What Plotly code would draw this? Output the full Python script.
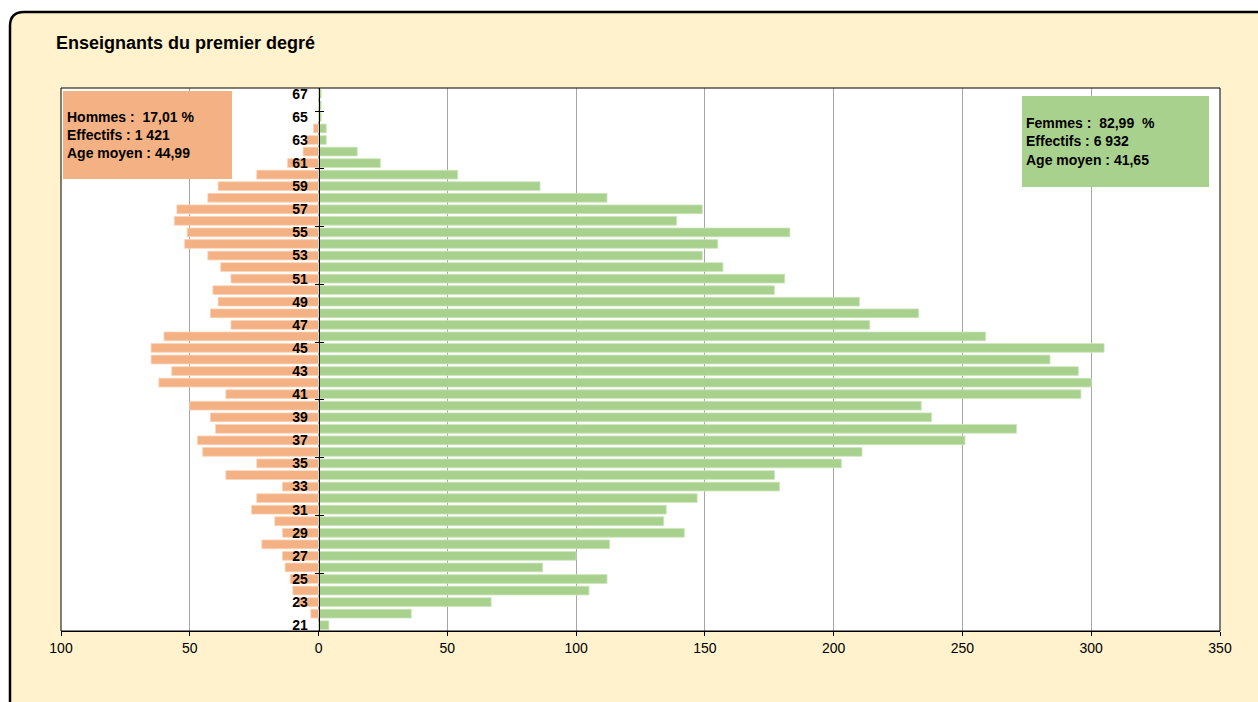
import plotly.graph_objects as go

# Ages 21..67 (bottom to top)
ages = list(range(21, 68))

# Headcount per age, men (Hommes)
hommes = [0, 3, 8, 10, 11, 13, 14, 22, 14, 17,
          26, 24, 14, 36, 24, 45, 47, 40, 42, 50,
          36, 62, 57, 65, 65, 60, 34, 42, 39, 41,
          34, 38, 43, 52, 51, 56, 55, 43, 39, 24,
          12, 6, 5, 2, 0, 0, 0]

# Headcount per age, women (Femmes)
femmes = [4, 36, 67, 105, 112, 87, 100, 113, 142, 134,
          135, 147, 179, 177, 203, 211, 251, 271, 238, 234,
          296, 300, 295, 284, 305, 259, 214, 233, 210, 177,
          181, 157, 149, 155, 183, 139, 149, 112, 86, 54,
          24, 15, 3, 3, 1, 1, 1]

age_moyen_hommes = "44,99"
age_moyen_femmes = "41,65"

x_ticks = [-100, -50, 0, 50, 100, 150, 200, 250, 300, 350]
x_tick_labels = [str(abs(v)) for v in x_ticks]
age_labels = [a for a in ages if a % 2 == 1]
age_marks = [a - 0.5 for a in ages if (a - 21) % 5 == 0]

FONT = "Liberation Sans, Arial, sans-serif"
COL_H = "#F4B183"
COL_F = "#A9D18E"
CREAM = "#FFF2CC"

W, H = 1258, 702
L, R, T, B = 61, 38, 88, 71
PW, PH = W - L - R, H - T - B


def px(x):
    return (x - L) / PW


def py(y):
    return (H - B - y) / PH


def fr_int(n):
    return f"{n:,}".replace(",", " ")


tot_h, tot_f = sum(hommes), sum(femmes)
pct_h = 100 * tot_h / (tot_h + tot_f)
pct_f = 100 * tot_f / (tot_h + tot_f)

xmin, xmax = x_ticks[0], x_ticks[-1]
zero_pos = (0 - xmin) / (xmax - xmin)

fig = go.Figure()
fig.add_trace(go.Bar(
    y=ages, x=[-v for v in hommes], orientation="h", name="Hommes",
    marker=dict(color=COL_H, line=dict(color="#FAD3B8", width=0.8)),
    customdata=hommes, hovertemplate="%{y} ans : %{customdata}<extra>Hommes</extra>",
))
fig.add_trace(go.Bar(
    y=ages, x=femmes, orientation="h", name="Femmes",
    marker=dict(color=COL_F, line=dict(color="#CDE5BD", width=0.8)),
    hovertemplate="%{y} ans : %{x}<extra>Femmes</extra>",
))
# carrier for the second age axis (tick marks on the right of the zero line)
fig.add_trace(go.Scatter(x=[], y=[], yaxis="y2", showlegend=False, hoverinfo="skip"))

rx, ry = 14 / PW, 14 / PH
frame_path = (
    f"M {px(10)},{py(1000)} L {px(10)},{py(12) - ry} "
    f"Q {px(10)},{py(12)} {px(10) + rx},{py(12)} "
    f"L {px(2000)},{py(12)} L {px(2000)},{py(1000)} Z"
)

shapes = [
    dict(type="path", xref="paper", yref="paper", path=frame_path,
         fillcolor=CREAM, line=dict(color="black", width=2.5), layer="below"),
    dict(type="rect", xref="paper", yref="paper", x0=0, x1=1, y0=0, y1=1,
         fillcolor="white", line=dict(width=0), layer="below"),
    dict(type="rect", xref="paper", yref="paper", x0=0, x1=1, y0=0, y1=1,
         fillcolor="rgba(0,0,0,0)", line=dict(color="black", width=1), layer="above"),
]

box_font = dict(family=FONT, size=14, color="black", weight="bold")
annotations = [
    dict(text="Enseignants du premier degré", xref="paper", yref="paper",
         x=px(54), y=py(43), xanchor="left", yanchor="middle", showarrow=False,
         font=dict(family=FONT, size=18, color="black", weight="bold")),
    dict(text=(f"Hommes :  {pct_h:.2f} %".replace(".", ",")
               + f"<br>Effectifs : {fr_int(tot_h)}<br>Age moyen : {age_moyen_hommes}"),
         xref="paper", yref="paper", x=px(63), y=py(91), xanchor="left", yanchor="top",
         showarrow=False, align="left", valign="middle", bgcolor=COL_H,
         width=161, height=80, borderpad=4, borderwidth=0, font=box_font),
    dict(text=(f"Femmes :  {pct_f:.2f}  %".replace(".", ",")
               + f"<br>Effectifs : {fr_int(tot_f)}<br>Age moyen : {age_moyen_femmes}"),
         xref="paper", yref="paper", x=px(1022), y=py(96), xanchor="left", yanchor="top",
         showarrow=False, align="left", valign="middle", bgcolor=COL_F,
         width=179, height=83, borderpad=4, borderwidth=0, font=box_font),
]

yrange = [ages[0] - 0.5, ages[-1] + 0.5]

fig.update_layout(
    width=W, height=H,
    margin=dict(l=L, r=R, t=T, b=B, pad=0),
    paper_bgcolor="white", plot_bgcolor="rgba(0,0,0,0)",
    barmode="overlay", bargap=0.24,
    showlegend=False,
    font=dict(family=FONT, size=14, color="black"),
    shapes=shapes, annotations=annotations,
    xaxis=dict(
        range=[xmin, xmax], tickmode="array", tickvals=x_ticks, ticktext=x_tick_labels,
        showgrid=True, gridcolor="#a6a6a6", gridwidth=1, zeroline=False,
        showline=True, linecolor="black", linewidth=1,
        ticks="outside", ticklen=4, tickcolor="black", tickwidth=1,
        tickfont=dict(family=FONT, size=14, color="black"),
        fixedrange=True,
    ),
    yaxis=dict(
        range=yrange, anchor="free", position=zero_pos,
        tickmode="array", tickvals=age_labels, ticktext=[str(a) for a in age_labels],
        ticks="", showgrid=False, zeroline=False,
        showline=True, linecolor="black", linewidth=1,
        ticklabelstandoff=8,
        tickfont=dict(family=FONT, size=14, color="black", weight="bold"),
        minor=dict(tickmode="array", tickvals=age_marks, ticks="outside",
                   ticklen=4, tickcolor="black", tickwidth=1, showgrid=False),
        fixedrange=True,
    ),
    yaxis2=dict(
        range=yrange, overlaying="y", anchor="free", position=zero_pos, side="left",
        tickmode="array", tickvals=age_labels, ticks="", showticklabels=False,
        showgrid=False, zeroline=False, showline=False,
        minor=dict(tickmode="array", tickvals=age_marks, ticks="inside",
                   ticklen=4, tickcolor="black", tickwidth=1, showgrid=False),
        fixedrange=True,
    ),
)

fig.write_html("out.html")
